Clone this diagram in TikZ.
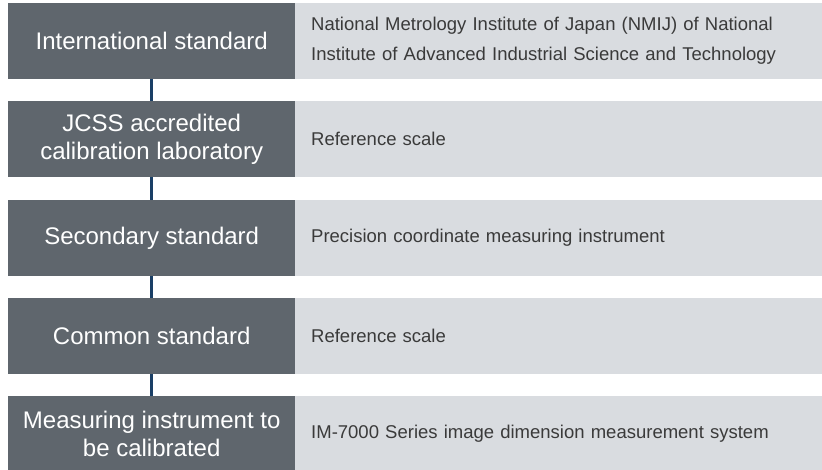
\documentclass[tikz,border=0pt]{standalone}
\usepackage{fontspec}
\setmainfont{Liberation Sans}
\definecolor{levelgray}{HTML}{5F666D}
\definecolor{sourcegray}{HTML}{D9DCE0}
\definecolor{sourcetext}{HTML}{3A3A3A}
\definecolor{linknavy}{HTML}{1A3F66}

\begin{document}
\begin{tikzpicture}[x=1pt, y=-1pt,
  level/.style={fill=levelgray, text=white, anchor=north west, minimum width=287pt, minimum height=76pt, inner sep=0pt, align=center, font=\fontsize{24}{28}\selectfont},
  source/.style={fill=sourcegray, text=sourcetext, anchor=north west, minimum height=76pt, text width=495pt, inner xsep=16pt, inner ysep=0pt, align=left, font=\fontsize{18.5}{30}\selectfont},
  link/.style={linknavy, line width=3pt}]
  \useasboundingbox (0,0) rectangle (822,470);
  % levels of the chain
  \node[level] (intl) at (8,3) {International standard};
  \node[level] (jcss) at (8,101) {JCSS accredited\\calibration laboratory};
  \node[level] (second) at (8,200) {Secondary standard};
  \node[level] (common) at (8,298) {Common standard};
  \node[level] (target) at (8,396) {Measuring instrument to\\be calibrated};
  % what is used at each level
  \node[source] (intlsrc) at (295,3) {National Metrology Institute of Japan (NMIJ) of National\\Institute of Advanced Industrial Science and Technology};
  \node[source] (jcsssrc) at (295,101) {Reference scale};
  \node[source] (secondsrc) at (295,200) {Precision coordinate measuring instrument};
  \node[source] (commonsrc) at (295,298) {Reference scale};
  \node[source] (targetsrc) at (295,396) {IM-7000 Series image dimension measurement system};
  % links
  \draw[link] (intl.south) -- (jcss.north);
  \draw[link] (jcss.south) -- (second.north);
  \draw[link] (second.south) -- (common.north);
  \draw[link] (common.south) -- (target.north);
\end{tikzpicture}
\end{document}
